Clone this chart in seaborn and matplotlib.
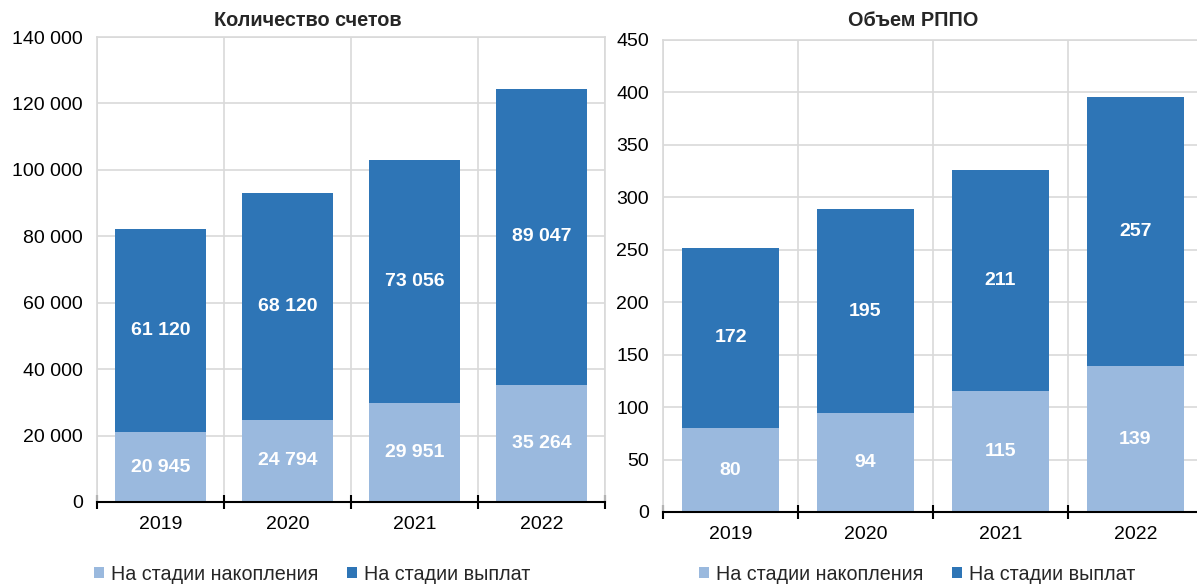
import matplotlib
matplotlib.use("Agg")
import matplotlib.pyplot as plt
from matplotlib.ticker import FuncFormatter, MultipleLocator
from matplotlib.patches import Patch
import seaborn as sns
import pandas as pd

years = ["2019", "2020", "2021", "2022"]
accounts_accum = [20945, 24794, 29951, 35264]
accounts_payout = [61120, 68120, 73056, 89047]
volume_accum = [80, 94, 115, 139]
volume_payout = [172, 195, 211, 257]
series_names = ["На стадии накопления", "На стадии выплат"]
titles = ["Количество счетов", "Объем РППО"]

LIGHT = "#9AB9DE"
DARK = "#2E75B6"
GRID = "#D9D9D9"

sns.set_theme(style="white")
plt.rcParams["font.family"] = ["Liberation Sans", "DejaVu Sans"]

W, H = 1197, 585
fig = plt.figure(figsize=(W / 100, H / 100), dpi=100)


def px_axes(x0, x1, ytop, ybot):
    return fig.add_axes([x0 / W, 1 - ybot / H, (x1 - x0) / W, (ybot - ytop) / H])


def fmt_space(v, pos=None):
    return f"{int(round(v)):,}".replace(",", " ")


def draw(ax, accum, payout, ymax, ystep, title, title_x, legend_x):
    df = pd.DataFrame({"year": years, "accum": accum,
                       "total": [a + b for a, b in zip(accum, payout)]})
    sns.barplot(data=df, x="year", y="total", color=DARK, width=0.72,
                saturation=1, ax=ax, zorder=2, linewidth=0, edgecolor="none")
    sns.barplot(data=df, x="year", y="accum", color=LIGHT, width=0.72,
                saturation=1, ax=ax, zorder=3, linewidth=0, edgecolor="none")
    ax.set_xlim(-0.5, 3.5)
    ax.set_ylim(0, ymax)
    ax.yaxis.set_major_locator(MultipleLocator(ystep))
    ax.yaxis.set_major_formatter(FuncFormatter(fmt_space))
    ax.set_xticks([-0.5, 0.5, 1.5, 2.5, 3.5], minor=True)
    ax.tick_params(axis="x", which="major", bottom=True, length=0, pad=10,
                   labelsize=14, colors="black")
    ax.tick_params(axis="x", which="minor", bottom=True, length=10, width=1.5,
                   direction="inout", color="black")
    ax.tick_params(axis="y", length=0, pad=10, labelsize=14, colors="black")
    ax.set_xlabel("")
    ax.set_ylabel("")
    ax.set_axisbelow(True)
    ax.grid(True, axis="y", which="major", color=GRID, lw=1.2)
    ax.grid(True, axis="x", which="minor", color=GRID, lw=1.2)
    ax.grid(False, axis="x", which="major")
    for s in ["left", "top", "right"]:
        ax.spines[s].set_color(GRID)
        ax.spines[s].set_linewidth(1.2)
    ax.spines["bottom"].set_color("black")
    ax.spines["bottom"].set_linewidth(1.5)
    ax.spines["bottom"].set_zorder(5)
    for i, (a, b) in enumerate(zip(accum, payout)):
        ax.text(i, a / 2, fmt_space(a), ha="center", va="center", color="white",
                fontsize=14, fontweight="bold", zorder=6)
        ax.text(i, a + b / 2, fmt_space(b), ha="center", va="center", color="white",
                fontsize=14, fontweight="bold", zorder=6)
    fig.text(title_x / W, 1 - 21 / H, title, ha="center", va="center",
             fontsize=14.3, fontweight="bold")
    handles = [Patch(facecolor=LIGHT, edgecolor="none"), Patch(facecolor=DARK, edgecolor="none")]
    fig.legend(handles, series_names, loc="center", ncol=2,
               bbox_to_anchor=(legend_x / W, 1 - 574 / H), frameon=False,
               fontsize=14.2, handlelength=0.5, handleheight=0.5, handletextpad=0.35,
               columnspacing=1.45, borderaxespad=0, borderpad=0)


ax1 = px_axes(97, 605, 37, 502)
draw(ax1, accounts_accum, accounts_payout, 140000, 20000, titles[0], 308, 312)
ax2 = px_axes(663, 1203, 40, 512)
draw(ax2, volume_accum, volume_payout, 450, 50, titles[1], 913, 917)

fig.savefig("out.png", dpi=100)
